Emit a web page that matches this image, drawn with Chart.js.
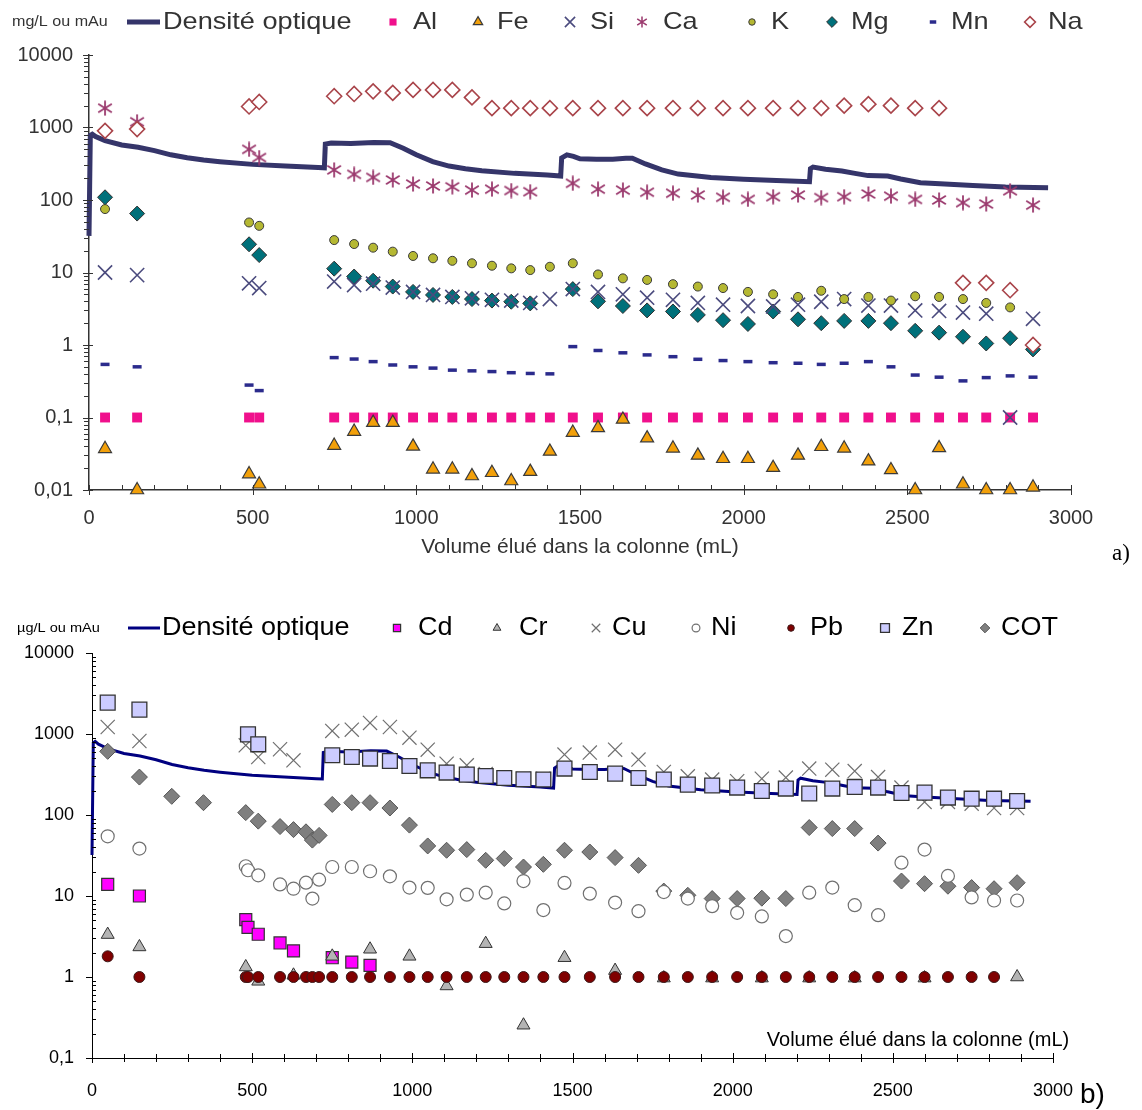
<!DOCTYPE html>
<html><head><meta charset="utf-8">
<script src="https://cdn.jsdelivr.net/npm/chart.js@4.4.1/dist/chart.umd.min.js"></script>
<style>
body{margin:0;background:#fff;width:1142px;height:1110px;position:relative;overflow:hidden;font-family:"Liberation Sans",Arial,sans-serif}
#ca{position:absolute;left:0;top:0}
#cb{position:absolute;left:0;top:600px}
#la{position:absolute;left:1112px;top:540px;font:23px "Liberation Serif","Times New Roman",serif;color:#000}
#lb{position:absolute;left:1080px;top:1078px;font:28px "Liberation Sans",Arial,sans-serif;color:#000}
</style></head><body>
<canvas id="ca" width="1142" height="565"></canvas>
<canvas id="cb" width="1142" height="510"></canvas>
<div id="la">a)</div><div id="lb">b)</div>
<script>
// ---------- shared axis ticks ----------
const xTickValues = [0, 500, 1000, 1500, 2000, 2500, 3000];
const xTickLabels = ['0', '500', '1000', '1500', '2000', '2500', '3000'];
const yTickValuesA = [0.01, 0.1, 1, 10, 100, 1000, 10000];
const yTickLabelsA = ['0,01', '0,1', '1', '10', '100', '1000', '10000'];
const yTickValuesB = [0.1, 1, 10, 100, 1000, 10000];
const yTickLabelsB = ['0,1', '1', '10', '100', '1000', '10000'];

// ---------- optical density (mAu) ----------
const odVolume = [0, 4, 10, 20, 49, 100, 150, 200, 250, 300, 350, 400, 500, 600, 700, 719, 722, 740, 800, 870, 920, 960, 1000, 1050, 1100, 1150, 1200, 1300, 1400, 1441, 1444, 1460, 1480, 1500, 1550, 1600, 1640, 1660, 1700, 1750, 1800, 1900, 2000, 2100, 2201, 2204, 2212, 2250, 2300, 2340, 2380, 2440, 2480, 2540, 2600, 2700, 2800, 2930];
const odValues = [32, 780, 810, 750, 660, 575, 535, 480, 420, 383, 356, 338, 310, 294, 280, 278, 590, 612, 600, 620, 615, 517, 420, 338, 294, 270, 254, 233, 221, 214, 380, 420, 400, 370, 365, 364, 376, 376, 314, 260, 228, 205, 194, 186, 179, 270, 285, 265, 251, 233, 217, 214, 195, 173, 167, 159, 151, 148];

// ---------- panel a (mg/L) ----------
const volA = [49, 147, 489, 520, 749, 810, 868, 928, 990, 1051, 1110, 1170, 1231, 1290, 1348, 1408, 1478, 1555, 1631, 1705, 1784, 1860, 1937, 2013, 2090, 2166, 2237, 2307, 2381, 2450, 2524, 2597, 2670, 2741, 2814, 2884];
const alA = [0.1, 0.1, 0.1, 0.1, 0.1, 0.1, 0.1, 0.1, 0.1, 0.1, 0.1, 0.1, 0.1, 0.1, 0.1, 0.1, 0.1, 0.1, 0.1, 0.1, 0.1, 0.1, 0.1, 0.1, 0.1, 0.1, 0.1, 0.1, 0.1, 0.1, 0.1, 0.1, 0.1, 0.1, 0.1, 0.1];
const feA = [0.037, 0.01, 0.0166, 0.012, 0.041, 0.064, 0.085, 0.085, 0.040, 0.0193, 0.0193, 0.0156, 0.0173, 0.0133, 0.0179, 0.034, 0.062, 0.072, 0.094, 0.052, 0.0376, 0.030, 0.027, 0.027, 0.0203, 0.030, 0.0395, 0.0376, 0.025, 0.0189, 0.01, 0.038, 0.012, 0.01, 0.01, 0.0109];
const siA = [10, 9.2, 7.1, 6.1, 7.5, 6.7, 7.0, 6.2, 5.4, 4.9, 4.6, 4.4, 4.2, 4.1, 3.8, 4.3, 5.9, 5.4, 5.0, 4.5, 4.2, 3.8, 3.6, 3.45, 3.4, 3.6, 3.95, 4.3, 3.5, 3.5, 3.0, 2.95, 2.8, 2.7, 0.1, 2.3];
const caA = [1850, 1200, 500, 385, 260, 226, 205, 189, 166, 156, 152, 137, 141, 135, 130, null, 170, 141, 137, 128, 124, 117, 109, 102, 111, 117, 108, 111, 121, 113, 102, 100, 92, 88, 134, 85];
const kA = [75, null, 49, 44, 28, 24.7, 22, 19.4, 16.9, 15.7, 14.5, 13.4, 12.4, 11.4, 10.8, 12, 13.4, 9.4, 8.3, 7.9, 6.9, 6.4, 6.1, 5.4, 5.0, 4.6, 5.6, 4.3, 4.6, 4.1, 4.7, 4.6, 4.3, 3.8, 3.3, null];
const mgA = [109, 65, 24.5, 17.4, 11.3, 8.8, 7.7, 6.4, 5.4, 4.9, 4.6, 4.3, 4.1, 3.95, 3.75, null, 5.9, 4.0, 3.45, 3.0, 2.9, 2.6, 2.2, 1.95, 2.9, 2.26, 2.0, 2.15, 2.15, 2.0, 1.57, 1.48, 1.3, 1.05, 1.24, 0.87];
const mnA = [0.54, 0.50, 0.28, 0.235, 0.67, 0.64, 0.59, 0.53, 0.5, 0.48, 0.45, 0.44, 0.43, 0.415, 0.405, 0.4, 0.95, 0.84, 0.78, 0.73, 0.69, 0.635, 0.61, 0.59, 0.57, 0.56, 0.54, 0.56, 0.59, 0.5, 0.385, 0.36, 0.32, 0.355, 0.375, 0.36];
const naA = [900, 950, 1950, 2250, 2700, 2900, 3150, 3000, 3300, 3300, 3300, 2600, 1850, 1850, 1850, 1850, 1850, 1850, 1850, 1850, 1850, 1850, 1850, 1850, 1850, 1850, 1850, 2000, 2100, 2000, 1850, 1850, 7.2, 7.2, 5.7, 1.0];

// ---------- panel b (µg/L) ----------
const volB = [49, 148, 249, 348, 480, 487, 519, 587, 629, 668, 688, 709, 750, 811, 868, 930, 991, 1048, 1107, 1170, 1229, 1287, 1347, 1409, 1475, 1554, 1633, 1706, 1785, 1860, 1936, 2014, 2091, 2166, 2239, 2311, 2381, 2454, 2527, 2599, 2672, 2746, 2816, 2888];
const cdB = [13.9, 10, null, null, 5.1, 4.1, 3.37, 2.63, 2.1, null, null, null, 1.73, 1.53, 1.39, null, null, null, null, null, null, null, null, null, null, null, null, null, null, null, null, null, null, null, null, null, null, null, null, null, null, null, null, null];
const crB = [3.34, 2.35, null, null, 1.33, null, 0.885, null, 1.05, null, null, null, 1.8, null, 2.2, null, 1.8, null, 0.775, null, 2.58, null, 0.254, null, 1.73, null, 1.2, null, 0.97, null, 0.97, null, 0.97, null, 0.97, null, 0.97, null, null, 0.97, null, null, null, 1.0];
const cuB = [1220, 820, null, null, 725, null, 520, 648, 473, null, null, null, 1090, 1130, 1370, 1220, 900, 641, 430, 410, 320, 290, 280, 280, 557, 590, 641, 483, 340, 300, 274, 261, 281, 290, 374, 363, 349, 294, 218, 145, 145, 138, 122, 122];
const niB = [54.6, 38.5, null, null, 23.3, 20.8, 18, 13.9, 12.3, 14.6, 9.3, 15.9, 22.8, 22.8, 20.2, 17.5, 12.7, 12.6, 9.1, 10.4, 11, 8.1, 15.3, 6.7, 14.5, 10.7, 8.3, 6.5, 11.2, 9.3, 7.5, 6.2, 5.6, 3.2, 11, 12.7, 7.7, 5.8, 25.8, 37.4, 17.7, 9.6, 8.8, 8.8];
const pbB = [1.8, 1, null, null, 1, 1, 1, 1, 1, 1, 1, 1, 1, 1, 1, 1, 1, 1, 1, 1, 1, 1, 1, 1, 1, 1, 1, 1, 1, 1, 1, 1, 1, 1, 1, 1, 1, 1, 1, 1, 1, 1, 1, null];
const znB = [2440, 2000, null, null, null, 990, 746, null, null, null, null, null, 546, 520, 497, 464, 403, 356, 334, 315, 303, 286, 276, 274, 374, 340, 324, 286, 274, 237, 231, 218, 198, 212, 184, 212, 222, 218, 187, 189, 164, 159, 159, 149];
const cotB = [611, 294, 170, 142, 107, null, 84, 72, 66, 62, 49, 56, 135, 142, 142, 122, 75, 41.5, 36.7, 37.4, 27.6, 29, 22.8, 24.6, 36.7, 34.9, 29.8, 23.9, 11.5, 10.2, 9.3, 9.3, 9.4, 9.3, 70, 68, 68, 45, 15.3, 14.2, 13.2, 12.7, 12.3, 14.6];

// ---------- helpers ----------
const F = '"Liberation Sans", Arial, sans-serif';
const pts = (xs, ys) => xs.map((x, i) => ({x: x, y: ys[i]})).filter(p => p.y !== null && p.y !== undefined);

function logTickList(majors) {
  const t = [];
  for (let i = 0; i < majors.length; i++) {
    t.push({value: majors[i], major: true});
    if (i < majors.length - 1) for (let m = 2; m <= 9; m++) t.push({value: +(majors[i] * m).toPrecision(4), major: false});
  }
  return t;
}
function linTickList(majors, step) {
  const t = [];
  for (let v = majors[0]; v <= majors[majors.length - 1] + 1e-9; v += step) t.push({value: v, major: majors.indexOf(v) >= 0});
  return t;
}
function asterisk(size, color, lw) {
  const c = document.createElement('canvas'); c.width = size; c.height = size;
  const g = c.getContext('2d'); g.strokeStyle = color; g.lineWidth = lw; g.lineCap = 'butt';
  const h = size / 2;
  g.beginPath();
  g.moveTo(h, 0.5); g.lineTo(h, size - 0.5);
  g.moveTo(1.2, size * 0.24); g.lineTo(size - 1.2, size * 0.76);
  g.moveTo(1.2, size * 0.76); g.lineTo(size - 1.2, size * 0.24);
  g.stroke();
  return c;
}

function decoPlugin(L) {
  return {
    id: 'deco',
    afterDraw(chart) {
      const ctx = chart.ctx, xs = chart.scales.x, ys = chart.scales.y, ca = chart.chartArea;
      ctx.save();
      ctx.strokeStyle = L.axisColor; ctx.lineWidth = 1;
      xs.ticks.forEach(t => {
        const px = Math.round(xs.getPixelForValue(t.value)) + 0.5;
        const a = t.major ? L.xMaj : L.xMin;
        ctx.beginPath(); ctx.moveTo(px, ca.bottom - a[0]); ctx.lineTo(px, ca.bottom + a[1]); ctx.stroke();
      });
      ys.ticks.forEach(t => {
        const py = Math.round(ys.getPixelForValue(t.value)) + 0.5;
        const a = t.major ? L.yMaj : L.yMin;
        ctx.beginPath(); ctx.moveTo(ca.left - a[0], py); ctx.lineTo(ca.left + a[1], py); ctx.stroke();
      });
      // unit label
      ctx.textBaseline = 'middle'; ctx.textAlign = 'left'; ctx.fillStyle = L.color;
      ctx.save(); ctx.translate(L.unitX, L.y); ctx.scale(L.unitStretch, 1); ctx.font = L.unitFont; ctx.fillText(L.unit, 0, 0); ctx.restore();
      // legend
      chart.data.datasets.forEach((ds, i) => {
        if (ds.showLine) {
          ctx.strokeStyle = ds.borderColor; ctx.lineWidth = ds.borderWidth;
          ctx.beginPath(); ctx.moveTo(L.lineX[0], L.y); ctx.lineTo(L.lineX[1], L.y); ctx.stroke();
        } else {
          ctx.fillStyle = ds.backgroundColor; ctx.strokeStyle = ds.borderColor; ctx.lineWidth = ds.borderWidth;
          Chart.helpers.drawPoint(ctx, {pointStyle: ds.legendStyle || ds.pointStyle, radius: ds.pointRadius * L.mscale, rotation: 0, borderWidth: ds.borderWidth}, L.markerX[i], L.y);
        }
        ctx.save(); ctx.translate(L.textX[i], L.y); ctx.scale(L.stretch, 1);
        ctx.fillStyle = L.color; ctx.font = L.font; ctx.textBaseline = 'middle'; ctx.textAlign = 'left';
        ctx.fillText(ds.label, 0, 0); ctx.restore();
      });
      if (L.inTitle) {
        ctx.fillStyle = L.color; ctx.font = L.inTitle.font; ctx.textAlign = 'center'; ctx.textBaseline = 'middle';
        ctx.fillText(L.inTitle.text, L.inTitle.x, L.inTitle.y);
      }
      ctx.restore();
    }
  };
}

function makeScales(o) {
  return {
    x: {
      type: 'linear', min: 0, max: 3000,
      afterBuildTicks: ax => { ax.ticks = linTickList(xTickValues, 100); },
      afterFit: ax => { ax.height = o.xHeight; ax.paddingLeft = 0; ax.paddingRight = 0; },
      ticks: {autoSkip: false, maxRotation: 0, minRotation: 0, padding: o.xPad, color: o.color, font: {size: o.tickSize, family: F},
        callback: v => { const i = xTickValues.indexOf(v); return i >= 0 ? xTickLabels[i] : ''; }},
      grid: {drawOnChartArea: false, drawTicks: true, tickLength: 6, tickColor: 'rgba(0,0,0,0)'},
      border: {display: true, color: o.axisColor, width: o.axisWidth},
      title: o.xTitle
    },
    y: {
      type: 'logarithmic', min: o.yVals[0], max: o.yVals[o.yVals.length - 1],
      afterBuildTicks: ax => { ax.ticks = logTickList(o.yVals); },
      afterFit: ax => { ax.width = o.yWidth; ax.paddingTop = 0; ax.paddingBottom = 0; },
      ticks: {autoSkip: false, padding: o.yPad, color: o.color, font: {size: o.tickSize, family: F},
        callback: v => { const i = o.yVals.indexOf(v); return i >= 0 ? o.yLabels[i] : ''; }},
      grid: {drawOnChartArea: false, drawTicks: true, tickLength: 6, tickColor: 'rgba(0,0,0,0)'},
      border: {display: true, color: o.axisColor, width: o.axisWidth}
    }
  };
}

// ---------- chart a ----------
new Chart(document.getElementById('ca'), {
  type: 'scatter',
  data: {datasets: [
    {label: 'Densité optique', data: pts(odVolume, odValues), showLine: true, borderColor: '#35356a', borderWidth: 5, pointRadius: 0, order: 10, clip: false},
    {label: 'Al', data: pts(volA, alA), pointStyle: 'rect', pointRadius: 7, backgroundColor: '#f0108c', borderColor: '#f0108c', borderWidth: 0, order: 9, clip: false},
    {label: 'Fe', data: pts(volA, feA), pointStyle: 'triangle', pointRadius: 7.5, backgroundColor: '#f2a00a', borderColor: '#3a3a3a', borderWidth: 1.2, order: 8, clip: false},
    {label: 'Si', data: pts(volA, siA), pointStyle: 'crossRot', pointRadius: 10, backgroundColor: '#4b4b7e', borderColor: '#4b4b7e', borderWidth: 1.6, order: 6, clip: false},
    {label: 'Ca', data: pts(volA, caA), pointStyle: asterisk(16, '#9b3a6e', 1.8), legendStyle: asterisk(12, '#9b3a6e', 1.5), pointRadius: 8, backgroundColor: '#9b3a6e', borderColor: '#9b3a6e', borderWidth: 1, order: 4, clip: false},
    {label: 'K', data: pts(volA, kA), pointStyle: 'circle', pointRadius: 4.5, backgroundColor: '#b5b832', borderColor: '#3a3a3a', borderWidth: 1, order: 5, clip: false},
    {label: 'Mg', data: pts(volA, mgA), pointStyle: 'rectRot', pointRadius: 7.5, backgroundColor: '#00707a', borderColor: '#303030', borderWidth: 1, order: 7, clip: false},
    {label: 'Mn', data: pts(volA, mnA), pointStyle: 'line', pointRadius: 4.5, backgroundColor: '#2b2b8c', borderColor: '#2b2b8c', borderWidth: 3.5, order: 3, clip: false},
    {label: 'Na', data: pts(volA, naA), pointStyle: 'rectRot', pointRadius: 7.5, backgroundColor: '#ffffff', borderColor: '#a9444a', borderWidth: 1.6, order: 2, clip: false}
  ]},
  options: {
    responsive: false, animation: false, events: [],
    layout: {padding: {left: 0, right: 71, top: 55, bottom: 0}},
    plugins: {legend: {display: false}, tooltip: {enabled: false}},
    scales: makeScales({xHeight: 75, xPad: 10, yWidth: 89, yPad: 10, color: '#333', tickSize: 20, axisColor: '#333', axisWidth: 1.5,
      yVals: yTickValuesA, yLabels: yTickLabelsA,
      xTitle: {display: true, text: 'Volume élué dans la colonne (mL)', color: '#333', font: {size: 21, family: F}, padding: {top: 2, bottom: 5}}})
  },
  plugins: [decoPlugin({
    axisColor: '#333', color: '#333', y: 22,
    xMaj: [5, 5], xMin: [5, 0], yMaj: [6, 4], yMin: [5, 0],
    unit: 'mg/L ou mAu', unitX: 12, unitFont: '14px ' + F, unitStretch: 1.15,
    font: '24px ' + F, stretch: 1.13, mscale: 0.72,
    lineX: [127, 160],
    markerX: [0, 393, 478, 570, 642, 752, 832, 933, 1030],
    textX: [163, 413, 497, 590, 663, 771, 851, 951, 1048]
  })]
});

// ---------- chart b ----------
new Chart(document.getElementById('cb'), {
  type: 'scatter',
  data: {datasets: [
    {label: 'Densité optique', data: pts(odVolume, odValues), showLine: true, borderColor: '#000080', borderWidth: 3, pointRadius: 0, order: 10, clip: false},
    {label: 'Cd', data: pts(volB, cdB), pointStyle: 'rect', pointRadius: 8.5, backgroundColor: '#ff00ff', borderColor: '#333333', borderWidth: 1.2, order: 5, clip: false},
    {label: 'Cr', data: pts(volB, crB), pointStyle: 'triangle', pointRadius: 7.5, backgroundColor: '#b4b4b4', borderColor: '#333333', borderWidth: 1, order: 2, clip: false},
    {label: 'Cu', data: pts(volB, cuB), pointStyle: 'crossRot', pointRadius: 10, backgroundColor: '#707070', borderColor: '#707070', borderWidth: 1.2, order: 7, clip: false},
    {label: 'Ni', data: pts(volB, niB), pointStyle: 'circle', pointRadius: 6.5, backgroundColor: '#ffffff', borderColor: '#707070', borderWidth: 1.2, order: 4, clip: false},
    {label: 'Pb', data: pts(volB, pbB), pointStyle: 'circle', pointRadius: 5.5, backgroundColor: '#800000', borderColor: '#3a1a1a', borderWidth: 1, order: 1, clip: false},
    {label: 'Zn', data: pts(volB, znB), pointStyle: 'rect', pointRadius: 10.5, backgroundColor: '#ccccff', borderColor: '#333333', borderWidth: 1.3, order: 3, clip: false},
    {label: 'COT', data: pts(volB, cotB), pointStyle: 'rectRot', pointRadius: 8, backgroundColor: '#7f7f7f', borderColor: '#555555', borderWidth: 1, order: 6, clip: false}
  ]},
  options: {
    responsive: false, animation: false, events: [],
    layout: {padding: {left: 0, right: 89, top: 53, bottom: 0}},
    plugins: {legend: {display: false}, tooltip: {enabled: false}},
    scales: makeScales({xHeight: 52, xPad: 16, yWidth: 92, yPad: 12, color: '#000', tickSize: 18, axisColor: '#000', axisWidth: 1,
      yVals: yTickValuesB, yLabels: yTickLabelsB, xTitle: {display: false}})
  },
  plugins: [decoPlugin({
    axisColor: '#000', color: '#000', y: 28,
    xMaj: [5, 5], xMin: [4, 4], yMaj: [6, 0], yMin: [0, 4],
    unit: 'µg/L ou mAu', unitX: 17, unitFont: '13px ' + F, unitStretch: 1.12,
    font: '25px ' + F, stretch: 1.08, mscale: 0.6,
    lineX: [128, 160],
    markerX: [0, 397, 497, 596, 696, 791, 885, 985],
    textX: [162, 418, 519, 612, 711, 810, 902, 1001],
    inTitle: {text: 'Volume élué dans la colonne (mL)', font: '20px ' + F, x: 918, y: 440}
  })]
});
</script>
</body></html>
